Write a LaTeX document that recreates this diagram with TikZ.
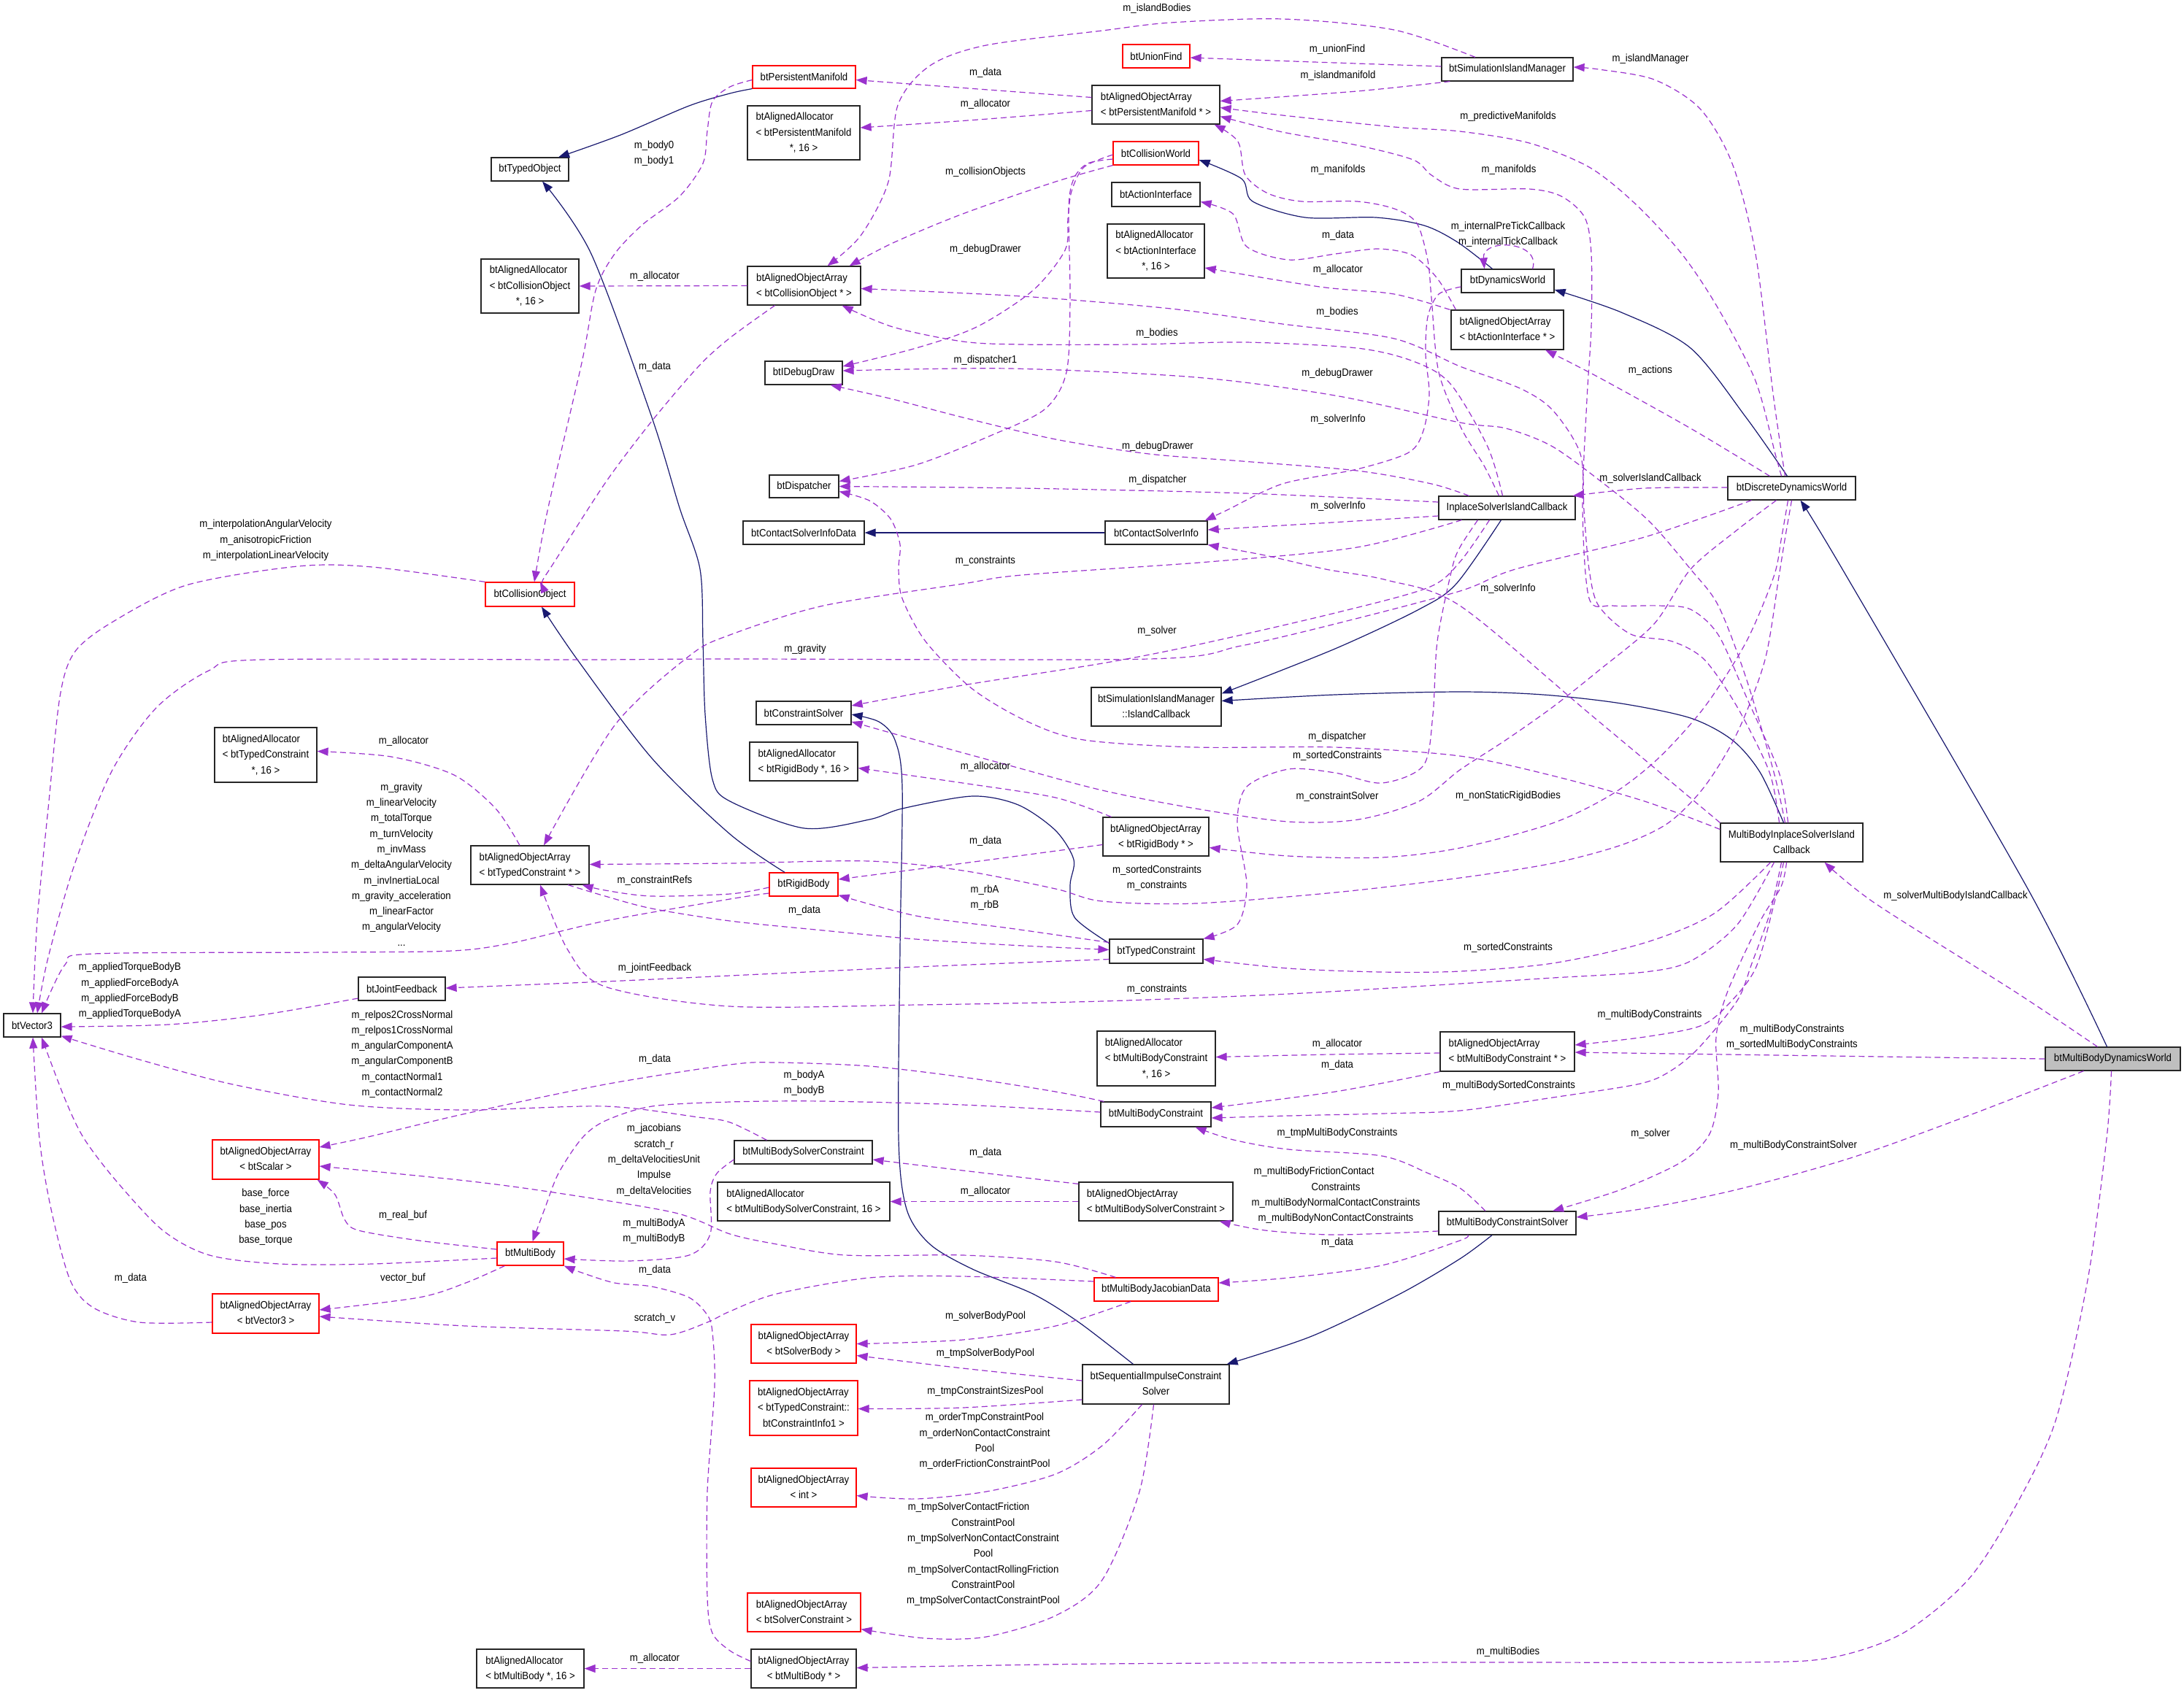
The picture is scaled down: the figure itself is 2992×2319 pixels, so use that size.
\documentclass[tikz,border=0pt]{standalone}
\usepackage{fontspec}
\setmainfont{Liberation Sans}[FakeStretch=0.91]
\usetikzlibrary{arrows.meta}
\definecolor{depc}{HTML}{9A32CD}
\definecolor{inhc}{HTML}{191970}
\definecolor{mainfill}{HTML}{BFBFBF}
\newcommand\dxfont{\fontsize{14.5}{21.3}\selectfont}
\newcommand\dxTwo[2]{\begin{tabular}{@{}l@{}}#1\\\multicolumn{1}{@{}c@{}}{#2}\end{tabular}}
\newcommand\dxThree[3]{\begin{tabular}{@{}l@{}}#1\\#2\\\multicolumn{1}{@{}c@{}}{#3}\end{tabular}}
\tikzset{
  cls/.style={draw=black!85, line width=1.2pt, fill=white, inner sep=0pt, font=\dxfont},
  rcls/.style={cls, draw=red},
  sz/.style 2 args={minimum width=#1pt, minimum height=#2pt},
  dep/.style={draw=depc, line width=1.2pt, dash pattern=on 8pt off 5pt, -{Triangle[length=15pt,width=11pt]}},
  inh/.style={draw=inhc, line width=1.2pt, -{Triangle[length=15pt,width=11pt]}},
  lbl/.style={inner sep=0pt, align=center, font=\dxfont},
}
\begin{document}
\begin{tikzpicture}[x=1pt,y=-1pt]
\useasboundingbox (0,0) rectangle (2992,2319);
\fill[white] (0,0) rectangle (2992,2319);
% ---------------- nodes ----------------
\node[cls, sz={106}{32}] (typedobj) at (726,232) {btTypedObject};
\node[cls, sz={134}{74}] (allocCO) at (726,392) {\dxThree{btAlignedAllocator}{< btCollisionObject}{*, 16 >}};
\node[rcls, sz={141}{31}] (pman) at (1101.5,105.5) {btPersistentManifold};
\node[cls, sz={154}{74}] (allocPM) at (1101,182) {\dxThree{btAlignedAllocator}{< btPersistentManifold}{*, 16 >}};
\node[cls, sz={175}{53}] (arrPM) at (1583.5,143.5) {\dxTwo{btAlignedObjectArray}{< btPersistentManifold * >}};
\node[rcls, sz={92}{32}] (unionfind) at (1584,77) {btUnionFind};
\node[cls, sz={180}{32}] (sim) at (2065,95) {btSimulationIslandManager};
\node[rcls, sz={117}{32}] (cw) at (1583.5,210) {btCollisionWorld};
\node[cls, sz={121}{33}] (action) at (1583.5,266.5) {btActionInterface};
\node[cls, sz={133}{74}] (allocAI) at (1583.5,344) {\dxThree{btAlignedAllocator}{< btActionInterface}{*, 16 >}};
\node[cls, sz={127}{32}] (dw) at (2065.5,385) {btDynamicsWorld};
\node[cls, sz={154}{54}] (arrAI) at (2065,452) {\dxTwo{btAlignedObjectArray}{< btActionInterface * >}};
\node[cls, sz={155}{53}] (arrCO) at (1101.5,391.5) {\dxTwo{btAlignedObjectArray}{< btCollisionObject * >}};
\node[cls, sz={106}{32}] (debug) at (1101,511) {btIDebugDraw};
\node[cls, sz={95}{31}] (disp) at (1101.5,666.5) {btDispatcher};
\node[cls, sz={166}{32}] (csid) at (1101,730) {btContactSolverInfoData};
\node[cls, sz={140}{32}] (csi) at (1584,730) {btContactSolverInfo};
\node[cls, sz={187}{32}] (inplace) at (2064.5,696) {InplaceSolverIslandCallback};
\node[cls, sz={175}{32}] (ddw) at (2454.5,669) {btDiscreteDynamicsWorld};
\node[rcls, sz={122}{33}] (co) at (726,814.5) {btCollisionObject};
\node[cls, sz={140}{75}] (allocTC) at (364,1034.5) {\dxThree{btAlignedAllocator}{< btTypedConstraint}{*, 16 >}};
\node[cls, sz={162}{53}] (arrTC) at (726,1185.5) {\dxTwo{btAlignedObjectArray}{< btTypedConstraint * >}};
\node[cls, sz={119}{32}] (jf) at (550.5,1355) {btJointFeedback};
\node[cls, sz={78}{32}] (vec) at (44,1405) {btVector3};
\node[cls, sz={130}{32}] (cs) at (1101,977) {btConstraintSolver};
\node[cls, sz={178}{53}] (ic) at (1584,968.5) {\dxTwo{btSimulationIslandManager}{::IslandCallback}};
\node[cls, sz={148}{53}] (allocRB) at (1101,1043.5) {\dxTwo{btAlignedAllocator}{< btRigidBody *, 16 >}};
\node[cls, sz={145}{53}] (arrRB) at (1583.5,1146.5) {\dxTwo{btAlignedObjectArray}{< btRigidBody * >}};
\node[rcls, sz={94}{32}] (rb) at (1101,1212) {btRigidBody};
\node[cls, sz={128}{33}] (tc) at (1584,1303.5) {btTypedConstraint};
\node[cls, sz={162}{75}] (allocMBC) at (1584,1450.5) {\dxThree{btAlignedAllocator}{< btMultiBodyConstraint}{*, 16 >}};
\node[cls, sz={151}{34}] (mbc) at (1583.5,1527) {btMultiBodyConstraint};
\node[cls, sz={184}{54}] (arrMBC) at (2065,1441) {\dxTwo{btAlignedObjectArray}{< btMultiBodyConstraint * >}};
\node[cls, sz={195}{53}] (mbisc) at (2454.5,1154.5) {\dxTwo{MultiBodyInplaceSolverIsland}{Callback}};
\node[cls, fill=mainfill, sz={185}{32}] (mbdw) at (2894.5,1451) {btMultiBodyDynamicsWorld};
\node[cls, sz={188}{32}] (mbcs) at (2065,1676) {btMultiBodyConstraintSolver};
\node[cls, sz={189}{32}] (mbsc) at (1100.5,1579) {btMultiBodySolverConstraint};
\node[cls, sz={236}{53}] (allocMBSC) at (1101,1646.5) {\dxTwo{btAlignedAllocator}{< btMultiBodySolverConstraint, 16 >}};
\node[cls, sz={211}{53}] (arrMBSC) at (1583.5,1646.5) {\dxTwo{btAlignedObjectArray}{< btMultiBodySolverConstraint >}};
\node[rcls, sz={170}{32}] (jac) at (1584,1767) {btMultiBodyJacobianData};
\node[rcls, sz={144}{53}] (arrSB) at (1101,1841.5) {\dxTwo{btAlignedObjectArray}{< btSolverBody >}};
\node[cls, sz={201}{54}] (sics) at (1583.5,1897) {\dxTwo{btSequentialImpulseConstraint}{Solver}};
\node[rcls, sz={148}{75}] (arrCI) at (1101,1929.5) {\dxThree{btAlignedObjectArray}{< btTypedConstraint::}{btConstraintInfo1 >}};
\node[rcls, sz={144}{53}] (arrInt) at (1101,2038.5) {\dxTwo{btAlignedObjectArray}{< int >}};
\node[rcls, sz={155}{53}] (arrSC) at (1101.5,2209.5) {\dxTwo{btAlignedObjectArray}{< btSolverConstraint >}};
\node[cls, sz={144}{53}] (arrMB) at (1101,2286.5) {\dxTwo{btAlignedObjectArray}{< btMultiBody * >}};
\node[cls, sz={147}{53}] (allocMB) at (726.5,2286.5) {\dxTwo{btAlignedAllocator}{< btMultiBody *, 16 >}};
\node[rcls, sz={146}{54}] (arrScalar) at (364,1589) {\dxTwo{btAlignedObjectArray}{< btScalar >}};
\node[rcls, sz={91}{32}] (mb) at (726.5,1718) {btMultiBody};
\node[rcls, sz={146}{54}] (arrVec) at (364,1800) {\dxTwo{btAlignedObjectArray}{< btVector3 >}};
% ---------------- inheritance ----------------
\draw[inh] plot[smooth] coordinates {(pman.south west) (1000,128) (944,145) (850,185) ([xshift=39pt]typedobj.north)};
\draw[inh] plot[smooth] coordinates {([yshift=11pt]tc.west) (1472,1257) (1466,1213) (1471,1178) (1446,1138) (1395,1103) (1332,1091) (1236,1108) (1191,1123) (1102,1135) (1000,1098) (976,1068) (966,979) (963,879) (959,780) (931,696) (893,572) (810,348) ([xshift=17pt]typedobj.south)};
\draw[inh] plot[smooth] coordinates {([xshift=-21pt]dw.north) (1997,332) (1951,309) (1885,298) (1788,298) (1716,276) (1701,245) ([yshift=-9pt]cw.east)};
\draw[inh] plot[smooth] coordinates {([xshift=-6pt]ddw.north) (2392,572) (2316,477) (2221,428) ([yshift=-12pt]dw.east)};
\draw[inh] plot[smooth] coordinates {([xshift=-8pt]mbdw.north) (2778,1218) (2524,780) ([xshift=12pt]ddw.south)};
\draw[inh] (csi.west) -- (csid.east);
\draw[inh] plot[smooth] coordinates {([xshift=-8pt]inplace.south) (1995,800) (1944,835) (1829,889) ([yshift=18pt]ic.east)};
\draw[inh] plot[smooth] coordinates {([xshift=-11pt]mbisc.north) (2411,1058) (2373,1014) (2316,984) (2221,964) (2114,952) (2000,948) (1829,952) ([yshift=8pt]ic.east)};
\draw[inh] plot[smooth] coordinates {([xshift=-26pt]rb.north) (1000,1143) (893,1039) (791,904) ([xshift=16pt]co.south)};
\draw[inh] plot[smooth] coordinates {([xshift=-31pt]sics.north) (1478,1812) (1415,1773) (1332,1739) (1274,1705) (1242,1657) (1231,1560) (1233,1300) (1236,1078) (1226,1014) (1204,989) ([yshift=-2pt]cs.east)};
\draw[inh] plot[smooth] coordinates {([xshift=-21pt]mbcs.south) (2000,1725) (1918,1773) (1797,1831) ([xshift=-4pt]sics.north east)};
% ---------------- usage ----------------
\draw[dep] plot[smooth] coordinates {([yshift=4pt]sim.west) (1800,85) ([yshift=-2pt]unionfind.east)};
\draw[dep] plot[smooth] coordinates {([xshift=12pt]sim.south west) (1859,125) ([yshift=5pt]arrPM.east)};
\draw[dep] plot[smooth] coordinates {([xshift=-44pt]sim.north) (1910,41) (1757,26) (1604,31) (1510,42) (1351,62) (1274,90) (1230,144) (1217,249) (1179,323) ([xshift=32pt]arrCO.north)};
\draw[dep] plot[smooth] coordinates {([yshift=10pt]arrPM.west) (1340,122) ([yshift=-4pt]pman.east)};
\draw[dep] plot[smooth] coordinates {([yshift=-8pt]arrPM.west) (1340,164) ([yshift=7pt]allocPM.east)};
\draw[dep] plot[smooth] coordinates {([yshift=-4pt]pman.west) (1000,119) (976,139) (969,179) (963,224) (931,269) (880,308) (842,348) (816,398) (797,497) (750,700) ([xshift=6pt]co.north)};
\draw[dep] plot[smooth] coordinates {(cw.south west) (1446,249) (1319,293) (1223,333) ([xshift=-16pt]arrCO.north east)};
\draw[dep] plot[smooth] coordinates {([yshift=-2pt]cw.west) (1485,229) (1468,262) (1463,300) (1459,343) (1415,398) (1338,448) (1255,477) ([yshift=9pt]debug.east)};
\draw[dep] plot[smooth] coordinates {([yshift=-8pt]cw.west) (1490,224) (1471,245) (1464,286) (1466,408) (1461,510) (1431,561) (1357,597) (1255,637) ([yshift=7pt]disp.east)};
\draw[dep] (arrCO.west) -- (allocCO.east);
\draw[dep] plot[smooth] coordinates {([xshift=-40pt]arrCO.south) (1000,463) (957,502) (893,577) (829,662) (753,780) ([xshift=14pt]co.north)};
\draw[dep] plot[smooth] coordinates {([xshift=-9pt]ddw.north) (2430,547) (2405,348) (2373,224) (2329,149) (2266,109) (2190,95) ([yshift=3pt]sim.east)};
\draw[dep] plot[smooth] coordinates {([xshift=-14pt]ddw.north) (2432,622) (2405,522) (2354,423) (2304,348) (2240,279) (2177,229) (2095,196) (2000,180) (1910,174) (1757,158) ([yshift=-4pt]arrPM.east)};
\draw[dep] plot[smooth] coordinates {([xshift=-11pt]inplace.north) (2033,638) (2002,587) (1971,510) (1961,408) (1956,357) (1941,306) (1910,286) (1859,276) (1783,276) (1737,265) (1706,240) (1696,194) ([xshift=-8pt]arrPM.south east)};
\draw[dep] plot[smooth] coordinates {([xshift=-5pt]mbisc.north) (2437,1058) (2392,954) (2354,870) (2316,835) (2272,830) (2209,830) (2177,820) (2168,696) (2174,547) (2180,448) (2180,348) (2171,298) (2139,269) (2095,259) (2000,259) (1961,240) (1936,219) (1859,199) (1757,181) ([yshift=-16pt]arrPM.east)};
\draw[dep] ([xshift=34pt]dw.north) .. controls (2112,330) and (2030,326) .. ([xshift=-32pt]dw.north);
\draw[dep] plot[smooth] coordinates {([xshift=7pt]arrAI.north west) (1975,390) (1957,368) (1931,348) (1887,341) (1829,348) (1765,356) (1708,338) (1689,293) ([yshift=-10pt]action.east)};
\draw[dep] plot[smooth] coordinates {([xshift=-1pt]arrAI.north west) (1910,403) (1808,393) ([yshift=-23pt]allocAI.east)};
\draw[dep] plot[smooth] coordinates {([xshift=-30pt]ddw.north) (2316,587) (2190,517) ([xshift=52pt]arrAI.south)};
\draw[dep] plot[smooth] coordinates {([yshift=1pt]ddw.west) (2253,669) ([xshift=-4pt]inplace.north east)};
\draw[dep] plot[smooth] coordinates {([yshift=-8pt]dw.west) (1971,403) (1956,434) (1953,485) (1958,540) (1950,590) (1930,620) (1859,643) (1757,663) (1681,699) ([xshift=-4pt]csi.north east)};
\draw[dep] plot[smooth] coordinates {([yshift=8pt]inplace.west) (1706,676) (1400,669) (disp.east)};
\draw[dep] plot[smooth] coordinates {([yshift=-11pt]inplace.west) (1808,717) ([yshift=4pt]csi.east)};
\draw[dep] plot[smooth] coordinates {([xshift=-52pt]inplace.north) (1961,663) (1859,645) (1702,632) (1574,622) (1446,602) (1319,572) (1223,547) ([xshift=-17pt]debug.south east)};
\draw[dep] plot[smooth] coordinates {([xshift=-6pt]inplace.north) (2038,612) (1987,526) (1936,495) (1859,477) (1706,469) (1553,472) (1400,472) (1319,468) (1223,448) ([xshift=-26pt]arrCO.south east)};
\draw[dep] plot[smooth] coordinates {([xshift=-62pt]inplace.south) (1859,750) (1655,770) (1400,788) (1319,800) (1128,830) (1000,870) (944,899) (842,994) ([xshift=19pt]arrTC.north)};
\draw[dep] plot[smooth] coordinates {([xshift=-24pt]inplace.south) (2000,770) (1957,805) (1829,840) (1638,884) (1510,909) (1319,939) ([yshift=10pt]cs.east)};
\draw[dep] plot[smooth] coordinates {([xshift=-55pt]ddw.south) (2253,736) (2076,780) (2000,810) (1829,855) (1700,885) (1574,903) (1000,903) (800,904) (357,904) (286,919) (214,970) (153,1057) (102,1185) (66,1312) ([xshift=7pt]vec.north)};
\draw[dep] plot[smooth] coordinates {([xshift=-21pt]ddw.south) (2380,726) (2316,780) (2266,855) (2190,919) (2127,969) (2063,1014) (2000,1055) (1944,1098) (1861,1123) (1765,1126) (1638,1108) (1510,1083) (1383,1049) (1255,1014) ([yshift=-12pt]cs.east)};
\draw[dep] plot[smooth] coordinates {([xshift=-5pt]ddw.south) (2440,740) (2430,790) (2392,880) (2335,969) (2272,1039) (2209,1088) (2127,1128) (2000,1162) (1893,1175) (1765,1173) ([yshift=-15pt]arrRB.east)};
\draw[dep] plot[smooth] coordinates {(ddw.south) (2445,740) (2437,790) (2418,904) (2380,1004) (2335,1078) (2285,1128) (2221,1158) (2127,1183) (2000,1203) (1829,1223) (1638,1238) (1510,1235) (1446,1218) (1319,1193) (1191,1180) (1000,1183) ([yshift=1pt]arrTC.east)};
\draw[dep] plot[smooth] coordinates {([xshift=-40pt]inplace.south) (2000,750) (1989,780) (1969,879) (1963,979) (1950,1049) (1893,1073) (1829,1059) (1765,1054) (1708,1078) (1695,1128) (1708,1213) (1695,1267) (tc.north east)};
\draw[dep] plot[smooth] coordinates {(mbisc.north west) (2180,980) (2000,830) (1900,795) (1816,780) (1733,761) (csi.south east)};
\draw[dep] plot[smooth] coordinates {([yshift=18pt]mbisc.west) (2253,1098) (2127,1063) (2000,1036) (1829,1024) (1638,1024) (1485,1014) (1408,989) (1332,944) (1268,879) (1236,820) (1231,780) (1233,746) (1220,711) (1191,686) ([yshift=-7pt]disp.east)};
\draw[dep] plot[smooth] coordinates {([xshift=-17pt]mbisc.north) (2424,1058) (2380,969) (2335,904) (2291,879) (2234,869) (2190,830) (2177,780) (2170,700) (2165,622) (2127,562) (2082,532) (2000,502) (1910,464) (1757,444) (1604,423) (1400,406) ([yshift=-4pt]arrCO.east)};
\draw[dep] plot[smooth] coordinates {([xshift=-9pt]mbisc.north) (2430,1058) (2392,929) (2354,830) (2316,780) (2260,715) (2200,665) (2127,612) (2063,587) (2000,579) (1829,542) (1638,517) (1383,505) ([yshift=3pt]debug.east)};
\draw[dep] plot[smooth] coordinates {([xshift=-24pt]mbisc.south) (2380,1267) (2316,1317) (2253,1332) (2127,1340) (2000,1348) (1765,1362) (1510,1372) (1255,1377) (1000,1379) (829,1352) (778,1302) ([xshift=14pt]arrTC.south)};
\draw[dep] plot[smooth] coordinates {([xshift=-29pt]mbisc.south) (2348,1252) (2253,1292) (2127,1320) (2000,1331) (1893,1332) (1765,1327) ([yshift=-11pt]tc.east)};
\draw[dep] plot[smooth] coordinates {([xshift=-11pt]mbisc.south) (2430,1240) (2405,1327) (2367,1377) (2329,1406) (2253,1421) ([yshift=9pt]arrMBC.east)};
\draw[dep] plot[smooth] coordinates {(mbdw.west) (2506,1447) ([yshift=-1pt]arrMBC.east)};
\draw[dep] plot[smooth] coordinates {([xshift=-14pt]mbisc.south) (2425,1250) (2400,1320) (2380,1371) (2329,1434) (2291,1466) (2247,1485) (2127,1504) (2000,1522) (1893,1526) (1765,1529) ([yshift=-5pt]mbc.east)};
\draw[dep] plot[smooth] coordinates {([xshift=-21pt]mbdw.north) (2759,1358) (2569,1238) ([xshift=45pt]mbisc.south)};
\draw[dep] plot[smooth] coordinates {([xshift=-7pt]mbisc.south) (2440,1215) (2411,1263) (2367,1358) (2351,1421) (2354,1497) (2342,1554) (2304,1592) (2221,1630) ([xshift=62pt]mbcs.north)};
\draw[dep] plot[smooth] coordinates {([xshift=-40pt]mbdw.south) (2696,1529) (2538,1586) (2380,1630) (2253,1656) ([yshift=8pt]mbcs.east)};
\draw[dep] plot[smooth] coordinates {([xshift=-2pt]mbdw.south) (2886,1560) (2860,1754) (2816,1947) (2759,2068) (2696,2165) (2607,2238) (2506,2272) (2380,2278) (2000,2278) (1510,2280) ([yshift=1pt]arrMB.east)};
\draw[dep] plot[smooth] coordinates {([yshift=-2pt]arrMBC.west) (1820,1445) ([yshift=2pt]allocMBC.east)};
\draw[dep] plot[smooth] coordinates {(arrMBC.south west) (1829,1496) ([yshift=9pt]mbc.east)};
\draw[dep] plot[smooth] coordinates {([xshift=-30pt]mbcs.north) (2000,1628) (1957,1608) (1893,1584) (1765,1575) (1690,1562) ([xshift=54pt]mbc.south)};
\draw[dep] plot[smooth] coordinates {([yshift=-11pt]mbcs.west) (1829,1692) (1733,1686) ([xshift=-19pt]arrMBSC.south east)};
\draw[dep] plot[smooth] coordinates {([xshift=40pt]mbcs.south west) (2000,1700) (1893,1734) (1765,1751) ([yshift=9pt]jac.east)};
\draw[dep] plot[smooth] coordinates {([yshift=-3pt]arrMBSC.north west) (1319,1604) ([yshift=-10pt]mbsc.east)};
\draw[dep] (arrMBSC.west) -- (allocMBSC.east);
\draw[dep] plot[smooth] coordinates {([xshift=-35pt]jac.south) (1446,1817) (1319,1836) (arrSB.east)};
\draw[dep] plot[smooth] coordinates {([yshift=11pt]jac.west) (1319,1749) (1191,1751) (1064,1773) (1000,1797) (969,1812) (918,1829) (855,1824) (638,1817) ([yshift=-4pt]arrVec.east)};
\draw[dep] plot[smooth] coordinates {([xshift=30pt]jac.north west) (1446,1729) (1319,1720) (1159,1720) (1064,1705) (1000,1691) (925,1662) (765,1635) (638,1618) ([yshift=-9pt]arrScalar.east)};
\draw[dep] plot[smooth] coordinates {([yshift=6pt]mb.west) (574,1700) (491,1686) (472,1671) (459,1637) ([xshift=-3pt]arrScalar.south east)};
\draw[dep] plot[smooth] coordinates {([xshift=11pt]mb.south west) (638,1758) (574,1778) ([yshift=5pt]arrVec.east)};
\draw[dep] plot[smooth] coordinates {([yshift=-6pt]mb.west) (510,1732) (383,1732) (287,1720) (223,1686) (159,1618) (115,1560) (89,1506) ([xshift=13pt]vec.south)};
\draw[dep] plot[smooth] coordinates {([yshift=-12pt]arrVec.west) (191,1812) (128,1792) (96,1754) (70,1657) (54,1560) ([xshift=1pt]vec.south)};
\draw[dep] plot[smooth] coordinates {([yshift=3pt]mbc.west) (1319,1514) (1128,1509) (1000,1510) (893,1516) (829,1536) (797,1560) (765,1608) (746,1657) ([xshift=3pt]mb.north)};
\draw[dep] plot[smooth] coordinates {([xshift=5pt]mbc.north west) (1446,1496) (1319,1476) (1191,1461) (1064,1456) (1000,1459) (829,1486) (638,1526) (504,1558) ([yshift=17pt]arrScalar.east)};
\draw[dep] plot[smooth] coordinates {([xshift=-50pt]mbsc.north) (1000,1538) (957,1531) (829,1516) (638,1521) (478,1514) (319,1486) (191,1452) ([yshift=2pt]vec.south east)};
\draw[dep] plot[smooth] coordinates {([yshift=-10pt]mbsc.west) (982,1608) (973,1633) (973,1691) (944,1720) (861,1728) ([yshift=-7pt]mb.east)};
\draw[dep] (arrMB.west) -- (allocMB.east);
\draw[dep] plot[smooth] coordinates {([yshift=10pt]arrMB.west) (1000,2262) (976,2238) (969,2189) (969,2044) (979,1899) (976,1826) (969,1802) (944,1778) (893,1763) (842,1758) (797,1744) (mb.south east)};
\draw[dep] plot[smooth] coordinates {([yshift=5pt]sics.west) (1319,1875) ([yshift=-16pt]arrSB.east)};
\draw[dep] plot[smooth] coordinates {([yshift=-21pt]sics.west) (1319,1929) ([yshift=-1pt]arrCI.east)};
\draw[dep] plot[smooth] coordinates {([xshift=-19pt]sics.south) (1510,1981) (1446,2020) (1351,2044) (1255,2054) ([yshift=-11pt]arrInt.east)};
\draw[dep] plot[smooth] coordinates {([xshift=-3pt]sics.south) (1561,2044) (1510,2165) (1446,2214) (1351,2243) (1268,2245) ([yshift=-23pt]arrSC.east)};
\draw[dep] plot[smooth] coordinates {([xshift=12pt]arrRB.north west) (1446,1093) (1319,1073) ([yshift=-9pt]allocRB.east)};
\draw[dep] plot[smooth] coordinates {([yshift=-11pt]arrRB.west) (1319,1183) ([yshift=7pt]rb.east)};
\draw[dep] plot[smooth] coordinates {([yshift=-4pt]rb.west) (1000,1225) (893,1228) (829,1220) ([xshift=-10pt]arrTC.south east)};
\draw[dep] plot[smooth] coordinates {([yshift=-12pt]rb.west) (1000,1232) (829,1262) (702,1292) (619,1303) (446,1305) (128,1307) (89,1322) ([xshift=13pt]vec.north)};
\draw[dep] plot[smooth] coordinates {([xshift=-14pt]arrTC.north) (679,1108) (622,1062) (536,1037) ([yshift=5pt]allocTC.east)};
\draw[dep] plot[smooth] coordinates {([xshift=52pt]arrTC.south) (829,1228) (893,1245) (1000,1262) (1128,1275) (1255,1287) (1383,1295) ([yshift=2pt]tc.west)};
\draw[dep] plot[smooth] coordinates {([yshift=12pt]tc.west) (1383,1272) (1255,1255) ([yshift=2pt]rb.south east)};
\draw[dep] plot[smooth] coordinates {([yshift=-11pt]tc.west) (1255,1325) (1000,1337) (829,1345) ([yshift=1pt]jf.east)};
\draw[dep] plot[smooth] coordinates {([yshift=-13pt]jf.west) (357,1391) (230,1404) ([yshift=-2pt]vec.east)};
\draw[dep] plot[smooth] coordinates {(co.north west) (510,777) (408,776) (255,802) (153,853) (102,894) (82,955) (66,1108) (51,1261) ([xshift=1pt]vec.north)};
% ---------------- labels ----------------
\node[lbl] (lb01) at (1585,12) {m\_islandBodies};
\node[lbl] (lb02) at (1832,68) {m\_unionFind};
\node[lbl] (lb03) at (1833,104) {m\_islandmanifold};
\node[lbl] (lb04) at (1350,100) {m\_data};
\node[lbl] (lb05) at (1350,143) {m\_allocator};
\node[lbl] (lb06) at (896,210.5) {m\_body0\\m\_body1};
\node[lbl] (lb07) at (1350,236) {m\_collisionObjects};
\node[lbl] (lb08) at (2261,81) {m\_islandManager};
\node[lbl] (lb09) at (2066,160) {m\_predictiveManifolds};
\node[lbl] (lb10) at (1833,233) {m\_manifolds};
\node[lbl] (lb11) at (2067,233) {m\_manifolds};
\node[lbl] (lb12) at (2066,321) {m\_internalPreTickCallback\\m\_internalTickCallback};
\node[lbl] (lb13) at (1833,323) {m\_data};
\node[lbl] (lb14) at (1833,370) {m\_allocator};
\node[lbl] (lb15) at (897,379) {m\_allocator};
\node[lbl] (lb16) at (1350,342) {m\_debugDrawer};
\node[lbl] (lb17) at (1832,428) {m\_bodies};
\node[lbl] (lb18) at (1585,457) {m\_bodies};
\node[lbl] (lb19) at (1350,494) {m\_dispatcher1};
\node[lbl] (lb20) at (897,503) {m\_data};
\node[lbl] (lb21) at (2261,508) {m\_actions};
\node[lbl] (lb22) at (1832,512) {m\_debugDrawer};
\node[lbl] (lb23) at (1586,612) {m\_debugDrawer};
\node[lbl] (lb24) at (1833,575) {m\_solverInfo};
\node[lbl] (lb25) at (2261,656) {m\_solverIslandCallback};
\node[lbl] (lb26) at (1586,658) {m\_dispatcher};
\node[lbl] (lb27) at (1833,694) {m\_solverInfo};
\node[lbl] (lb28) at (364,740.5) {m\_interpolationAngularVelocity\\m\_anisotropicFriction\\m\_interpolationLinearVelocity};
\node[lbl] (lb29) at (1350,769) {m\_constraints};
\node[lbl] (lb30) at (2066,807) {m\_solverInfo};
\node[lbl] (lb31) at (1585,865) {m\_solver};
\node[lbl] (lb32) at (1103,890) {m\_gravity};
\node[lbl] (lb33) at (1832,1010) {m\_dispatcher};
\node[lbl] (lb34) at (553,1016) {m\_allocator};
\node[lbl] (lb35) at (1832,1036) {m\_sortedConstraints};
\node[lbl] (lb36) at (1350,1051) {m\_allocator};
\node[lbl] (lb37) at (550,1184.5) {m\_gravity\\m\_linearVelocity\\m\_totalTorque\\m\_turnVelocity\\m\_invMass\\m\_deltaAngularVelocity\\m\_invInertiaLocal\\m\_gravity\_acceleration\\m\_linearFactor\\m\_angularVelocity\\...};
\node[lbl] (lb38) at (2066,1091) {m\_nonStaticRigidBodies};
\node[lbl] (lb39) at (1832,1092) {m\_constraintSolver};
\node[lbl] (lb40) at (1350,1153) {m\_data};
\node[lbl] (lb41) at (1585,1203) {m\_sortedConstraints\\m\_constraints};
\node[lbl] (lb42) at (897,1207) {m\_constraintRefs};
\node[lbl] (lb43) at (1349,1230) {m\_rbA\\m\_rbB};
\node[lbl] (lb44) at (2679,1228) {m\_solverMultiBodyIslandCallback};
\node[lbl] (lb45) at (1102,1248) {m\_data};
\node[lbl] (lb46) at (2066,1299) {m\_sortedConstraints};
\node[lbl] (lb47) at (178,1358) {m\_appliedTorqueBodyB\\m\_appliedForceBodyA\\m\_appliedForceBodyB\\m\_appliedTorqueBodyA};
\node[lbl] (lb48) at (897,1327) {m\_jointFeedback};
\node[lbl] (lb49) at (1585,1356) {m\_constraints};
\node[lbl] (lb50) at (2260,1391) {m\_multiBodyConstraints};
\node[lbl] (lb51) at (551,1444.5) {m\_relpos2CrossNormal\\m\_relpos1CrossNormal\\m\_angularComponentA\\m\_angularComponentB\\m\_contactNormal1\\m\_contactNormal2};
\node[lbl] (lb52) at (2455,1421) {m\_multiBodyConstraints\\m\_sortedMultiBodyConstraints};
\node[lbl] (lb53) at (1832,1431) {m\_allocator};
\node[lbl] (lb54) at (1832,1460) {m\_data};
\node[lbl] (lb55) at (897,1452) {m\_data};
\node[lbl] (lb56) at (1101.5,1484.5) {m\_bodyA\\m\_bodyB};
\node[lbl] (lb57) at (2067,1488) {m\_multiBodySortedConstraints};
\node[lbl] (lb58) at (896,1589.6) {m\_jacobians\\scratch\_r\\m\_deltaVelocitiesUnit\\Impulse\\m\_deltaVelocities};
\node[lbl] (lb59) at (2261,1554) {m\_solver};
\node[lbl] (lb60) at (1832,1553) {m\_tmpMultiBodyConstraints};
\node[lbl] (lb61) at (2457,1570) {m\_multiBodyConstraintSolver};
\node[lbl] (lb62) at (1350,1580) {m\_data};
\node[lbl] (lb63) at (1830,1638) {\hbox{m\_multiBodyFrictionContact\kern60pt}\\Constraints\\m\_multiBodyNormalContactConstraints\\m\_multiBodyNonContactConstraints};
\node[lbl] (lb64) at (1350,1633) {m\_allocator};
\node[lbl] (lb65) at (364,1668) {base\_force\\base\_inertia\\base\_pos\\base\_torque};
\node[lbl] (lb66) at (552,1666) {m\_real\_buf};
\node[lbl] (lb67) at (896,1687.5) {m\_multiBodyA\\m\_multiBodyB};
\node[lbl] (lb68) at (1832,1703) {m\_data};
\node[lbl] (lb69) at (897,1741) {m\_data};
\node[lbl] (lb70) at (179,1752) {m\_data};
\node[lbl] (lb71) at (552,1752) {vector\_buf};
\node[lbl] (lb72) at (1350,1804) {m\_solverBodyPool};
\node[lbl] (lb73) at (897,1807) {scratch\_v};
\node[lbl] (lb74) at (1350,1855) {m\_tmpSolverBodyPool};
\node[lbl] (lb75) at (1350,1907) {m\_tmpConstraintSizesPool};
\node[lbl] (lb76) at (1349,1975) {m\_orderTmpConstraintPool\\m\_orderNonContactConstraint\\Pool\\m\_orderFrictionConstraintPool};
\node[lbl] (lb77) at (1347,2130) {\hbox{m\_tmpSolverContactFriction\kern40pt}\\ConstraintPool\\m\_tmpSolverNonContactConstraint\\Pool\\m\_tmpSolverContactRollingFriction\\ConstraintPool\\m\_tmpSolverContactConstraintPool};
\node[lbl] (lb78) at (2066,2264) {m\_multiBodies};
\node[lbl] (lb79) at (897,2273) {m\_allocator};
\end{tikzpicture}
\end{document}
